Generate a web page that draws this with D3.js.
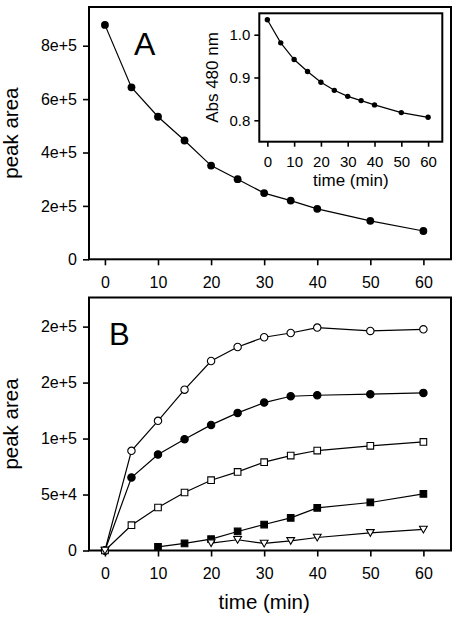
<!DOCTYPE html>
<html>
<head>
<meta charset="utf-8">
<script src="https://cdn.jsdelivr.net/npm/d3@7"></script>
<style>
  html, body { margin: 0; padding: 0; background: #fff; }
  svg { display: block; font-family: "Liberation Sans", Arial, Helvetica, sans-serif; }
</style>
</head>
<body>
<svg id="chart" width="458" height="618"></svg>
<script>
// ---------- Data ----------
const timesA = [0, 5, 10, 15, 20, 25, 30, 35, 40, 50, 60];
const peakAreaA = [878000, 644000, 534000, 445000, 351000, 300000, 248000, 220000, 189000, 144000, 106000];

const absInset = [1.035, 0.981, 0.942, 0.914, 0.889, 0.870, 0.856, 0.846, 0.836, 0.818, 0.807];

const timesB = [0, 5, 10, 15, 20, 25, 30, 35, 40, 50, 60];
const openCircles   = [0, 89000, 115800, 143700, 169300, 181800, 190500, 194300, 199100, 196100, 197600];
const filledCircles = [0, 65200, 85700, 99400, 112200, 122900, 132100, 137800, 138700, 139600, 140800];
const openSquares   = [0, 22600, 38400, 51800, 62800, 70200, 78900, 84800, 89300, 93500, 97000];
const filledSquares = [null, null, 3300, 6300, 10100, 17000, 23200, 29200, 38100, 42900, 50600];
const openTriangles = [0, null, null, null, 6600, 9600, 6300, 8600, 11600, 15800, 18800];

const xTicks = [0, 10, 20, 30, 40, 50, 60];
const yTicksA = [0, 200000, 400000, 600000, 800000];
const yTickLabelsA = ["0", "2e+5", "4e+5", "6e+5", "8e+5"];
const yTicksB = [0, 50000, 100000, 150000, 200000];
const yTickLabelsB = ["0", "5e+4", "1e+5", "2e+5", "2e+5"];
const insetXTicks = [0, 10, 20, 30, 40, 50, 60];
const insetYTicks = [0.8, 0.9, 1.0];
const insetYTickLabels = ["0.8", "0.9", "1.0"];

// ---------- Setup ----------
const svg = d3.select("#chart");

function styleAxis(g, fontSize) {
  g.select(".domain").remove();
  g.selectAll(".tick line").attr("stroke", "#000").attr("stroke-width", 1.6);
  g.selectAll(".tick text").attr("fill", "#000").attr("font-size", fontSize)
    .attr("font-family", "'Liberation Sans', Arial, Helvetica, sans-serif");
}

function labelFor(values, labels) {
  return v => labels[values.indexOf(v)];
}

// ---------- Panel A ----------
const xA = d3.scaleLinear().domain([-3, 65.2]).range([89, 451]);
const yA = d3.scaleLinear().domain([0, 945000]).range([259.3, 7]);

const gA = svg.append("g");
gA.append("g").attr("transform", `translate(0,${yA.range()[0]})`)
  .call(d3.axisBottom(xA).tickValues(xTicks).tickSize(6).tickPadding(11).tickFormat(d3.format("d")))
  .call(g => styleAxis(g, 16));
gA.append("g").attr("transform", `translate(${xA.range()[0]},0)`)
  .call(d3.axisLeft(yA).tickValues(yTicksA).tickSize(6).tickPadding(6).tickFormat(labelFor(yTicksA, yTickLabelsA)))
  .call(g => styleAxis(g, 16));

gA.append("rect")
  .attr("x", xA.range()[0]).attr("y", yA.range()[1])
  .attr("width", xA.range()[1] - xA.range()[0]).attr("height", yA.range()[0] - yA.range()[1])
  .attr("fill", "none").attr("stroke", "#000").attr("stroke-width", 2);

const lineA = d3.line().x((d, i) => xA(timesA[i])).y(d => yA(d));
gA.append("path").datum(peakAreaA).attr("d", lineA)
  .attr("fill", "none").attr("stroke", "#000").attr("stroke-width", 1.2);
gA.selectAll("circle.pA").data(peakAreaA).join("circle").attr("class", "pA")
  .attr("cx", (d, i) => xA(timesA[i])).attr("cy", d => yA(d)).attr("r", 3.9).attr("fill", "#000");

gA.append("text").attr("x", 134).attr("y", 55).attr("font-size", 32).text("A");

gA.append("text")
  .attr("transform", `translate(18,${(yA.range()[0] + yA.range()[1]) / 2}) rotate(-90)`)
  .attr("text-anchor", "middle").attr("font-size", 20.5).text("peak area");

// ---------- Inset ----------
const xI = d3.scaleLinear().domain([-3, 65.3]).range([259.3, 442.3]);
const yI = d3.scaleLinear().domain([0.75, 1.05]).range([141.7, 13.3]);
const gI = svg.append("g");

gI.append("rect")
  .attr("x", xI.range()[0]).attr("y", yI.range()[1])
  .attr("width", xI.range()[1] - xI.range()[0]).attr("height", yI.range()[0] - yI.range()[1])
  .attr("fill", "#fff").attr("stroke", "none");
gI.append("g").attr("transform", `translate(0,${yI.range()[0]})`)
  .call(d3.axisBottom(xI).tickValues(insetXTicks).tickSize(5).tickPadding(10).tickFormat(d3.format("d")))
  .call(g => styleAxis(g, 15));
gI.append("g").attr("transform", `translate(${xI.range()[0]},0)`)
  .call(d3.axisLeft(yI).tickValues(insetYTicks).tickSize(5).tickPadding(4).tickFormat(labelFor(insetYTicks, insetYTickLabels)))
  .call(g => styleAxis(g, 15));
gI.append("rect")
  .attr("x", xI.range()[0]).attr("y", yI.range()[1])
  .attr("width", xI.range()[1] - xI.range()[0]).attr("height", yI.range()[0] - yI.range()[1])
  .attr("fill", "none").attr("stroke", "#000").attr("stroke-width", 2);

const lineI = d3.line().x((d, i) => xI(timesA[i])).y(d => yI(d));
gI.append("path").datum(absInset).attr("d", lineI)
  .attr("fill", "none").attr("stroke", "#000").attr("stroke-width", 1.2);
gI.selectAll("circle.pI").data(absInset).join("circle").attr("class", "pI")
  .attr("cx", (d, i) => xI(timesA[i])).attr("cy", d => yI(d)).attr("r", 2.7).attr("fill", "#000");

gI.append("text").attr("x", (xI.range()[0] + xI.range()[1]) / 2).attr("y", 186)
  .attr("text-anchor", "middle").attr("font-size", 17).text("time (min)");
gI.append("text")
  .attr("transform", `translate(218.3,${(yI.range()[0] + yI.range()[1]) / 2}) rotate(-90)`)
  .attr("text-anchor", "middle").attr("font-size", 17).text("Abs 480 nm");

// ---------- Panel B ----------
const xB = d3.scaleLinear().domain([-3, 65.2]).range([89, 451]);
const yB = d3.scaleLinear().domain([0, 226000]).range([550.5, 297.5]);
const gB = svg.append("g");

gB.append("g").attr("transform", `translate(0,${yB.range()[0]})`)
  .call(d3.axisBottom(xB).tickValues(xTicks).tickSize(6).tickPadding(11).tickFormat(d3.format("d")))
  .call(g => styleAxis(g, 16));
gB.append("g").attr("transform", `translate(${xB.range()[0]},0)`)
  .call(d3.axisLeft(yB).tickValues(yTicksB).tickSize(6).tickPadding(6).tickFormat(labelFor(yTicksB, yTickLabelsB)))
  .call(g => styleAxis(g, 16));
gB.append("rect")
  .attr("x", xB.range()[0]).attr("y", yB.range()[1])
  .attr("width", xB.range()[1] - xB.range()[0]).attr("height", yB.range()[0] - yB.range()[1])
  .attr("fill", "none").attr("stroke", "#000").attr("stroke-width", 2);

const seriesB = [
  { values: openCircles, shape: "circle", fill: "#fff" },
  { values: filledCircles, shape: "circle", fill: "#000" },
  { values: openSquares, shape: "square", fill: "#fff" },
  { values: filledSquares, shape: "square", fill: "#000" },
  { values: openTriangles, shape: "triangle", fill: "#fff" }
];

const lineB = d3.line()
  .defined(d => d != null)
  .x((d, i) => xB(timesB[i])).y(d => yB(d));

const symbolFor = {
  circle: d3.symbol().type(d3.symbolCircle).size(Math.PI * 3.7 * 3.7),
  square: d3.symbol().type(d3.symbolSquare).size(6.6 * 6.6),
  triangle: d3.symbol().type(d3.symbolTriangle).size(26)
};

seriesB.forEach(s => {
  const g = gB.append("g");
  g.append("path").datum(s.values).attr("d", lineB)
    .attr("fill", "none").attr("stroke", "#000").attr("stroke-width", 1.2);
  const pts = s.values.map((v, i) => ({ t: timesB[i], v })).filter(d => d.v != null);
  g.selectAll("path.m").data(pts).join("path").attr("class", "m")
    .attr("d", symbolFor[s.shape])
    .attr("transform", d => `translate(${xB(d.t)},${yB(d.v) - (s.shape === "triangle" ? 1 : 0)})${s.shape === "triangle" ? " rotate(180)" : ""}`)
    .attr("fill", s.fill).attr("stroke", "#000").attr("stroke-width", 1.1);
});

gB.append("text").attr("x", 109).attr("y", 345).attr("font-size", 31).text("B");

gB.append("text")
  .attr("transform", `translate(18,${(yB.range()[0] + yB.range()[1]) / 2}) rotate(-90)`)
  .attr("text-anchor", "middle").attr("font-size", 20.5).text("peak area");
gB.append("text").attr("x", (xB(0) + xB(60)) / 2).attr("y", 609)
  .attr("text-anchor", "middle").attr("font-size", 20.5).text("time (min)");
</script>
</body>
</html>
